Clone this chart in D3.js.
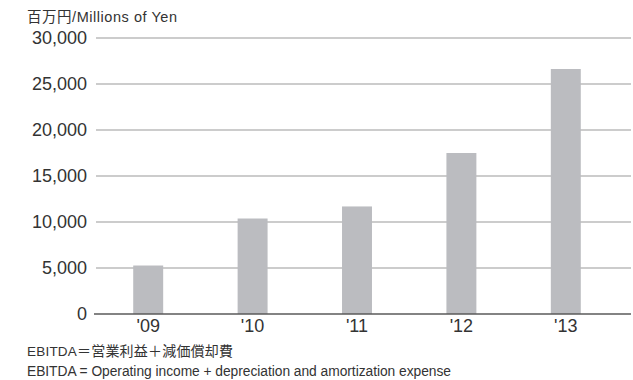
<!DOCTYPE html>
<html>
<head>
<meta charset="utf-8">
<script src="https://cdn.jsdelivr.net/npm/d3@7"></script>
<style>
  html, body { margin: 0; padding: 0; background: #fff; }
  svg { display: block; }
  text { font-family: "Liberation Sans", Arial, "Noto Sans CJK JP", sans-serif; fill: #333; }
</style>
</head>
<body>
<svg id="chart" width="633" height="380"></svg>
<script>
// EBITDA by fiscal year (millions of yen)
const years = ["'09", "'10", "'11", "'12", "'13"];
const ebitda = [5270, 10380, 11690, 17500, 26630];
const yTicks = [0, 5000, 10000, 15000, 20000, 25000, 30000];
const unitLabel = "百万円/Millions of Yen";
const noteJaHead = "EBITDA";
const noteJaBody = "＝営業利益＋減価償却費";
const noteEn = "EBITDA = Operating income + depreciation and amortization expense";

const svg = d3.select("#chart");
const plotLeft = 96, plotRight = 618, gridRight = 631;
const yTop = 38, yBottom = 314;

const x = d3.scaleBand()
  .domain(years)
  .range([plotLeft, plotRight])
  .paddingInner(0.713)
  .paddingOuter(0.3565);

const y = d3.scaleLinear()
  .domain([0, 30000])
  .range([yBottom, yTop]);

const fmt = d3.format(",");

// Horizontal gridlines (bars are drawn over them)
svg.append("g")
  .selectAll("line")
  .data(yTicks.filter(d => d > 0))
  .join("line")
  .attr("x1", plotLeft)
  .attr("x2", gridRight)
  .attr("y1", d => y(d))
  .attr("y2", d => y(d))
  .attr("stroke", "#9a9a9a")
  .attr("stroke-width", 1.2);

// Bars
svg.append("g")
  .selectAll("rect")
  .data(years.map((yr, i) => ({ yr, v: ebitda[i] })))
  .join("rect")
  .attr("x", d => x(d.yr))
  .attr("width", x.bandwidth())
  .attr("y", d => y(d.v))
  .attr("height", d => y(0) - y(d.v))
  .attr("fill", "#bbbcc0");

// Baseline
svg.append("line")
  .attr("x1", 94)
  .attr("x2", gridRight)
  .attr("y1", y(0))
  .attr("y2", y(0))
  .attr("stroke", "#5a5a5a")
  .attr("stroke-width", 1.4);

// Y axis labels
const yAxis = d3.axisLeft(y).tickValues(yTicks).tickFormat(fmt).tickSize(0).tickPadding(0);
const yg = svg.append("g")
  .attr("transform", "translate(87,0)")
  .call(yAxis);
yg.select(".domain").remove();
yg.selectAll("text")
  .attr("font-size", 18)
  .attr("fill", "#333")
  .attr("font-family", "Liberation Sans, Arial, sans-serif");

// X axis labels
const xAxis = d3.axisBottom(x).tickSize(0).tickPadding(0);
const xg = svg.append("g")
  .attr("transform", `translate(0,${y(0) + 5})`)
  .call(xAxis);
xg.select(".domain").remove();
xg.selectAll("text")
  .attr("font-size", 18)
  .attr("fill", "#333")
  .attr("font-family", "Liberation Sans, Arial, sans-serif");

// Unit label
svg.append("text")
  .attr("x", 27)
  .attr("y", 22)
  .attr("font-size", 14.5)
  .attr("textLength", 150)
  .attr("lengthAdjust", "spacing")
  .text(unitLabel);

// Footnotes
const ja = svg.append("text")
  .attr("x", 27)
  .attr("y", 356)
  .attr("textLength", 206)
  .attr("lengthAdjust", "spacing");
ja.append("tspan").attr("font-size", 13.5).text(noteJaHead);
ja.append("tspan").attr("font-size", 14).text(noteJaBody);

svg.append("text")
  .attr("x", 27)
  .attr("y", 376)
  .attr("font-size", 13.8)
  .attr("textLength", 424)
  .attr("lengthAdjust", "spacing")
  .text(noteEn);
</script>
</body>
</html>
